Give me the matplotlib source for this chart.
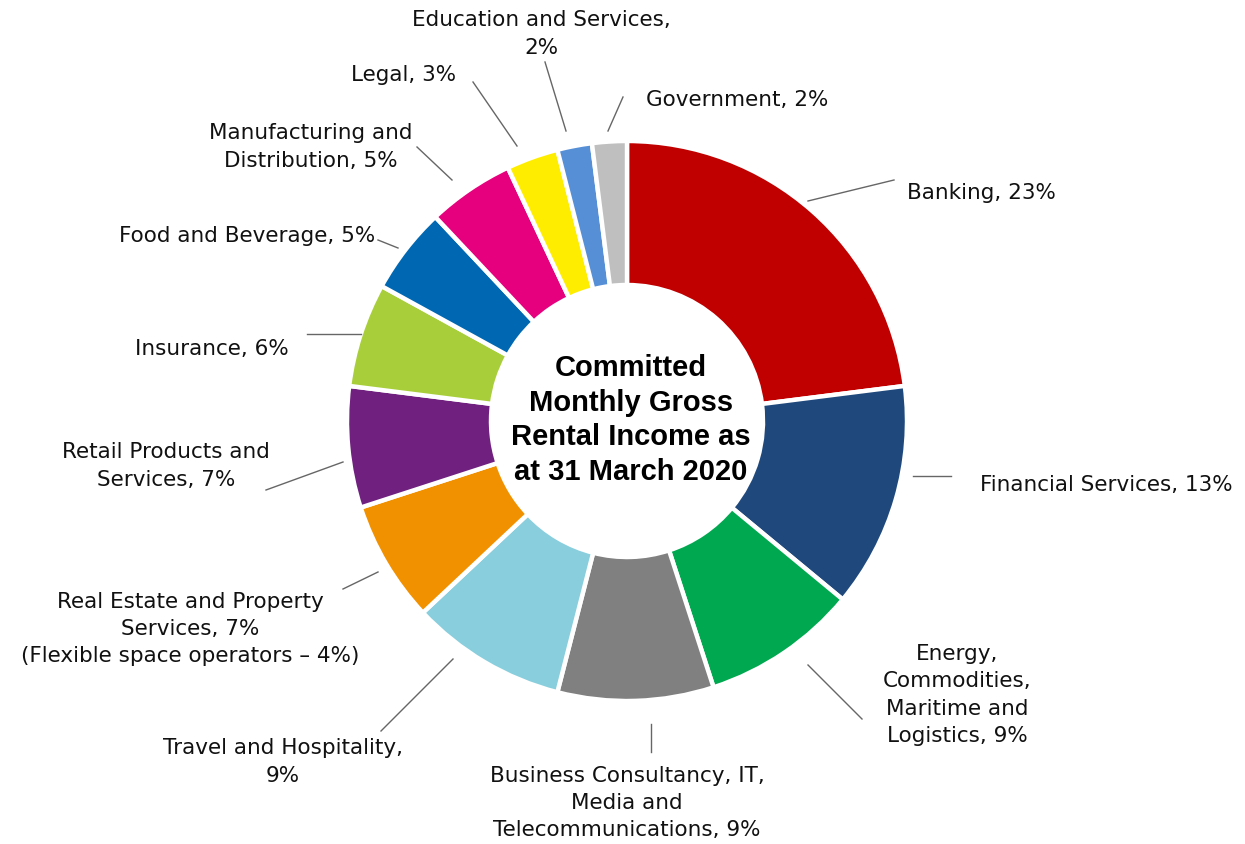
import matplotlib
matplotlib.use("Agg")
import matplotlib.pyplot as plt
import numpy as np

categories = ["Banking", "Financial Services", "Energy, Commodities, Maritime and Logistics",
              "Business Consultancy, IT, Media and Telecommunications", "Travel and Hospitality",
              "Real Estate and Property Services", "Retail Products and Services", "Insurance",
              "Food and Beverage", "Manufacturing and Distribution", "Legal",
              "Education and Services", "Government"]
values = [23, 13, 9, 9, 9, 7, 7, 6, 5, 5, 3, 2, 2]
label_texts = ["Banking, 23%", "Financial Services, 13%",
               "Energy,\nCommodities,\nMaritime and\nLogistics, 9%",
               "Business Consultancy, IT,\nMedia and\nTelecommunications, 9%",
               "Travel and Hospitality,\n9%",
               "Real Estate and Property\nServices, 7%\n(Flexible space operators – 4%)",
               "Retail Products and\nServices, 7%", "Insurance, 6%",
               "Food and Beverage, 5%", "Manufacturing and\nDistribution, 5%",
               "Legal, 3%", "Education and Services,\n2%", "Government, 2%"]
colors = ["#C00000", "#1F497D", "#00A84F", "#808080", "#88CEDD", "#F29100", "#70207E",
          "#A8CF3A", "#0068B2", "#E6007E", "#FFED00", "#568FD6", "#BFBFBF"]
center_title = "Committed\nMonthly Gross\nRental Income as\nat 31 March 2020"

W, H = 1245, 844
fig = plt.figure(figsize=(W / 100, H / 100), dpi=100)
ax = fig.add_axes([0, 0, 1, 1])

cx, cy = 627, H - 421
R = 280
ax.pie(values, colors=colors, startangle=90, counterclock=False, radius=R,
       center=(cx, cy), wedgeprops=dict(width=144, edgecolor="white", linewidth=3.2))
ax.set_xlim(0, W)
ax.set_ylim(0, H)
ax.set_aspect("equal")
ax.axis("off")

ax.text(cx + 4, cy + 1, center_title, ha="center", va="center", fontsize=21,
        fontweight="bold", family="Liberation Sans", linespacing=1.3)

# label layout: (text x, text y, ha, line start, line end) in pixel coords from top
layout = [
    (907, 193, "left", (808, 201), (894, 180)),
    (980, 485, "left", (913, 476), (951, 476)),
    (957, 695, "center", (808, 665), (862, 719)),
    (627, 803, "center", (651, 724), (651, 752)),
    (283, 762, "center", (453, 659), (381, 731)),
    (190, 629, "center", (378, 572), (343, 589)),
    (166, 466, "center", (343, 462), (266, 490)),
    (212, 349, "center", (361, 334), (307, 334)),
    (375, 236, "right", (398, 248), (378, 240)),
    (311, 147, "center", (452, 180), (417, 147)),
    (404, 75, "center", (517, 146), (473, 82)),
    (541, 34, "center", (566, 131), (545, 62)),
    (646, 100, "left", (608, 131), (623, 97)),
]

for txt, (tx, ty, ha, p0, p1) in zip(label_texts, layout):
    ax.text(tx, H - ty, txt, ha=ha, va="center", fontsize=15.5, family="DejaVu Sans",
            color="#111111", linespacing=1.45, multialignment="center")
    ax.plot([p0[0], p1[0]], [H - p0[1], H - p1[1]], color="#666666", lw=1.0)

fig.savefig("out.png", dpi=100)
